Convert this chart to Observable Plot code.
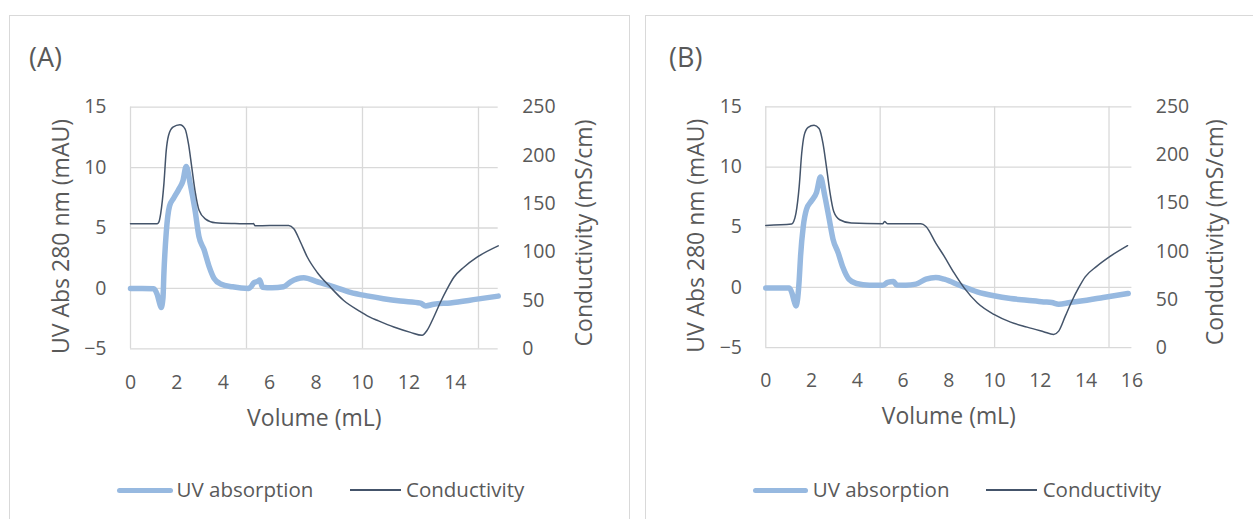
<!DOCTYPE html>
<html>
<head>
<meta charset="utf-8">
<script src="https://cdn.jsdelivr.net/npm/d3@7"></script>
<script src="https://cdn.jsdelivr.net/npm/@observablehq/plot@0.6"></script>
<style>
  html, body { margin:0; padding:0; background:#fff; width:1253px; height:519px; overflow:hidden; }
  body { position:relative; font-family:"Open Sans", sans-serif; color:#595959; }
  .panel { position:absolute; border:1px solid #d9d9d9; box-sizing:border-box; }
  .plotwrap { position:absolute; top:0; }
  .title { position:absolute; font-size:27px; line-height:27px; white-space:nowrap; }
  .leg { position:absolute; font-size:20.5px; line-height:20.5px; white-space:nowrap; }
  .sw { position:absolute; }
</style>
</head>
<body>
<div class="panel" style="left:9px;top:15px;width:621px;height:520px"></div>
<div class="panel" style="left:645px;top:15px;width:620px;height:520px"></div>
<div class="title" style="left:29px;top:43px">(A)</div>
<div class="title" style="left:669px;top:43px">(B)</div>
<div class="plotwrap" id="plotA" style="left:0px"></div>
<div class="plotwrap" id="plotB" style="left:635px"></div>
<div id="legA"></div>
<div id="legB"></div>
<script>
// ---------- data ----------
const uvTicks = [-5, 0, 5, 10, 15];
const condTicks = [0, 50, 100, 150, 200, 250];
const xGridVals = [0, 5, 10, 15];
const xTicksA = [0, 2, 4, 6, 8, 10, 12, 14];
const xTicksB = [0, 2, 4, 6, 8, 10, 12, 14, 16];
const seriesNames = ["UV absorption", "Conductivity"];

// Panel A – UV absorption (mAU)
const uvVolA = [0, 0.5, 1.0, 1.15, 1.25, 1.32, 1.40, 1.44, 1.54, 1.68, 1.87, 2.08, 2.26, 2.40, 2.59, 2.78, 2.95, 3.17, 3.39, 3.60, 3.89, 4.40, 5.10, 5.20, 5.32, 5.50, 5.57, 5.69, 6.10, 6.60, 6.90, 7.47, 8.05, 8.77, 9.48, 10.27, 10.90, 11.64, 12.50, 12.72, 13.07, 13.79, 14.94, 15.85];
const uvA    = [0, 0, -0.02, -0.5, -1.2, -1.58, -0.8, 1.25, 4.6, 6.8, 7.5, 8.2, 8.9, 10.1, 8.5, 6.5, 4.3, 3.2, 1.8, 0.83, 0.36, 0.13, 0.0, 0.15, 0.47, 0.6, 0.7, 0.1, 0.05, 0.13, 0.55, 0.88, 0.55, 0.13, -0.33, -0.64, -0.85, -1.05, -1.22, -1.45, -1.31, -1.2, -0.89, -0.64];
// Panel A – Conductivity (mS/cm)
const condVolA = [0, 1.15, 1.22, 1.30, 1.44, 1.54, 1.64, 1.83, 2.13, 2.35, 2.50, 2.64, 2.78, 2.96, 3.22, 3.66, 4.50, 5.24, 5.30, 5.37, 6.00, 6.82, 7.04, 7.33, 7.62, 8.05, 8.62, 9.19, 9.91, 10.34, 10.63, 11.35, 12.07, 12.57, 12.78, 13.07, 13.36, 13.65, 13.94, 14.37, 14.94, 15.85];
const condA    = [129.3, 129.3, 131, 139.7, 170.7, 205, 220.7, 229.3, 231.8, 227.6, 212, 188, 163.8, 143, 134.5, 130.4, 129.6, 129.3, 129.6, 127.3, 127.6, 127.6, 124.2, 110.3, 95, 79, 63.7, 50, 38.5, 32.5, 29.5, 22.5, 17, 14, 18.9, 32.7, 48.2, 62, 74, 84.4, 94.8, 106.5];

// Panel B – UV absorption (mAU)
const uvVolB = [0, 0.5, 1.03, 1.15, 1.25, 1.32, 1.40, 1.46, 1.52, 1.64, 1.78, 2.00, 2.22, 2.39, 2.58, 2.77, 2.94, 3.16, 3.37, 3.63, 3.96, 4.53, 5.11, 5.33, 5.58, 5.72, 6.12, 6.56, 7.00, 7.43, 7.80, 8.52, 9.24, 9.97, 10.70, 11.42, 12.14, 12.50, 12.80, 13.30, 14.03, 14.75, 15.84];
const uvB    = [-0.05, -0.05, -0.05, -0.5, -1.2, -1.53, -0.8, 0.6, 2.6, 5.1, 6.5, 7.2, 7.9, 9.17, 7.6, 5.7, 4.0, 2.9, 1.67, 0.69, 0.33, 0.19, 0.19, 0.42, 0.5, 0.2, 0.19, 0.28, 0.69, 0.83, 0.69, 0.14, -0.36, -0.69, -0.92, -1.06, -1.2, -1.25, -1.39, -1.25, -1.06, -0.83, -0.5];
// Panel B – Conductivity (mS/cm)
const condVolB = [0, 1.13, 1.22, 1.32, 1.46, 1.57, 1.68, 1.85, 2.11, 2.33, 2.50, 2.65, 2.80, 2.97, 3.23, 3.74, 5.11, 5.19, 5.33, 6.78, 7.00, 7.43, 7.80, 8.23, 8.67, 9.24, 9.97, 10.70, 11.42, 12.14, 12.58, 12.80, 13.09, 13.38, 13.67, 13.96, 14.46, 15.00, 15.81];
const condB    = [126.9, 128.3, 131, 139.7, 167.2, 201.8, 220.7, 228.7, 231, 227.6, 212.1, 188, 162, 141.3, 132.8, 129.3, 128.6, 131, 128.6, 128.6, 125.8, 108.6, 94.8, 77.6, 62.1, 46.6, 34.5, 26.5, 21.3, 16.6, 13.8, 17.2, 32.7, 48.5, 62, 73.5, 84.4, 94, 105.9];

// ---------- styling ----------
const UV_COLOR = "#97B9E0";
const COND_COLOR = "#44546A";
const GRID = "#d9d9d9";
const TEXT = "#595959";
// conductivity (0..250) -> UV axis (-5..15)
const toUV = c => -5 + c * 20 / 250;
const fromUV = u => (u + 5) * 250 / 20;

function panel(opts) {
  const uvData = opts.uvVol.map((v, i) => ({x: v, y: opts.uv[i]}));
  const condData = opts.condVol.map((v, i) => ({x: v, y: toUV(opts.cond[i])}));
  return Plot.plot({
    width: opts.width,
    height: 440,
    marginLeft: opts.marginLeft,
    marginRight: opts.marginRight,
    marginTop: 106.7,
    marginBottom: 91.7,
    style: {fontFamily: "'Open Sans', sans-serif", fontSize: "19.5px", color: TEXT, background: "transparent", overflow: "visible"},
    x: {domain: opts.xDomain},
    y: {domain: [-5, 15]},
    marks: [
      Plot.gridY(uvTicks, {stroke: GRID, strokeOpacity: 1, strokeWidth: 1.3}),
      Plot.gridX(xGridVals, {stroke: GRID, strokeOpacity: 1, strokeWidth: 1.3}),
      Plot.axisX(opts.xTicks, {tickSize: 0, tickPadding: 26, label: null, fill: TEXT}),
      Plot.axisY(uvTicks, {anchor: "left", tickSize: 0, tickPadding: 24, label: null, fill: TEXT}),
      Plot.axisY(condTicks.map(toUV), {anchor: "right", tickSize: 0, tickPadding: 24, label: null, fill: TEXT, tickFormat: d => String(Math.round(fromUV(d)))}),
      Plot.text(["Volume (mL)"], {frameAnchor: "bottom", textAnchor: "middle", dy: 77, fontSize: 23, fill: TEXT}),
      Plot.text(["UV Abs 280 nm (mAU)"], {frameAnchor: "left", textAnchor: "middle", rotate: -90, dx: opts.leftTitleDx, dy: 8.5, fontSize: 23, fill: TEXT}),
      Plot.text(["Conductivity (mS/cm)"], {frameAnchor: "right", textAnchor: "middle", rotate: -90, dx: opts.rightTitleDx, dy: 5, fontSize: 23, fill: TEXT}),
      Plot.line(uvData, {x: "x", y: "y", stroke: UV_COLOR, strokeWidth: 5.5, curve: "monotone-x", strokeLinecap: "round", strokeLinejoin: "round"}),
      Plot.line(condData, {x: "x", y: "y", stroke: COND_COLOR, strokeWidth: 1.5, curve: "monotone-x"})
    ]
  });
}

document.getElementById("plotA").appendChild(panel({
  width: 630, marginLeft: 130, marginRight: 132.3, xDomain: [0, 15.85], xTicks: xTicksA,
  uvVol: uvVolA, uv: uvA, condVol: condVolA, cond: condA, leftTitleDx: -69, rightTitleDx: 86.3
}));
document.getElementById("plotB").appendChild(panel({
  width: 620, marginLeft: 130.7, marginRight: 122, xDomain: [0, 16], xTicks: xTicksB,
  uvVol: uvVolB, uv: uvB, condVol: condVolB, cond: condB, leftTitleDx: -69.2, rightTitleDx: 84
}));

// ---------- legends ----------
function legend(id, pos) {
  const el = document.getElementById(id);
  el.innerHTML =
    `<div class="sw" style="left:${pos.uvLine[0]}px;top:487.5px;width:${pos.uvLine[1]-pos.uvLine[0]}px;height:5px;border-radius:2.5px;background:${UV_COLOR}"></div>` +
    `<div class="leg" style="left:${pos.uvText}px;top:478.5px">${seriesNames[0]}</div>` +
    `<div class="sw" style="left:${pos.cLine[0]}px;top:489.2px;width:${pos.cLine[1]-pos.cLine[0]}px;height:1.5px;background:${COND_COLOR}"></div>` +
    `<div class="leg" style="left:${pos.cText}px;top:478.5px">${seriesNames[1]}</div>`;
}
legend("legA", {uvLine: [117, 173], uvText: 176.5, cLine: [349.5, 401], cText: 406});
legend("legB", {uvLine: [753.3, 808.3], uvText: 812.7, cLine: [986, 1037.3], cText: 1042.7});
</script>
</body>
</html>
